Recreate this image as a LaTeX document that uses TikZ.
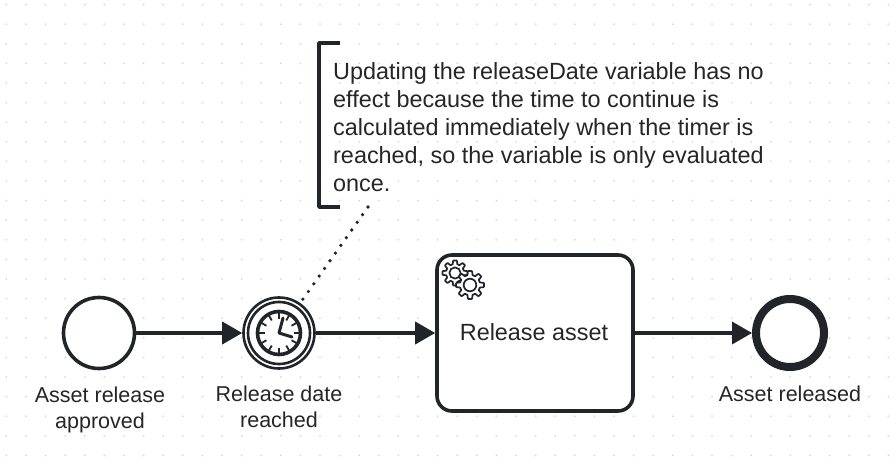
\documentclass[tikz,border=0pt]{standalone}
\usepackage{fontspec}
\setmainfont{Liberation Sans}
\usetikzlibrary{arrows.meta}
\usetikzlibrary{calc}
\usetikzlibrary{positioning}
\definecolor{inkdark}{rgb}{0.13,0.14,0.16}
\definecolor{griddot}{rgb}{0.84,0.85,0.86}
\tikzset{
    event/.style={circle, draw=inkdark, fill=white, line width=3.6pt, minimum size=71pt, inner sep=0pt},
    timerevent/.style={circle, draw=inkdark, fill=white, line width=2.6pt, minimum size=71pt, inner sep=0pt},
    endevent/.style={circle, draw=inkdark, fill=white, line width=8pt, minimum size=68pt, inner sep=0pt},
    task/.style={rectangle, draw=inkdark, fill=white, line width=3.6pt, rounded corners=15pt, minimum width=196pt, minimum height=156pt, inner sep=0pt},
    flow/.style={draw=inkdark, line width=3.6pt, -{Triangle[length=20pt,width=22pt]}},
    label/.style={align=center, text=black!85, font=\fontsize{21.5}{26}\selectfont, inner sep=0pt},
    bigtext/.style={text=black!85, font=\fontsize{23.4}{28}\selectfont, inner sep=0pt},
    gear/.style={draw=inkdark, fill=white, line width=1.7pt, line join=round}
}
% one gear with eight teeth
\newcommand{\gearshape}[3]{
    \draw[gear] plot[samples=193, domain=0:360] ({#1+#3*(0.86+0.14*max(-1,min(1,2.5*cos(8*\x))))*cos(\x)},{#2+#3*(0.86+0.14*max(-1,min(1,2.5*cos(8*\x))))*sin(\x)}) -- cycle;
    \draw[gear] (#1,#2) circle ({#3*0.45});
}
\begin{document}
\begin{tikzpicture}[x=1pt, y=-1pt]
    \useasboundingbox (0,0) rectangle (896,462);
    \fill[white] (0,0) rectangle (896,462);

    % Punktraster
    \foreach \i in {0,...,45} {
        \foreach \j in {0,...,23} {
            \fill[griddot] (6.4+19.6*\i,4.6+19.6*\j) circle (1pt);
        }
    }

    % Elemente
    \node[event] (approved) at (99,333) {};
    \node[timerevent] (reached) at (279,333) {};
    \node[circle, draw=inkdark, line width=2.6pt, minimum size=62pt, inner sep=0pt] (reachedinner) at (279,333) {};
    \node[circle, draw=inkdark, line width=3.6pt, minimum size=43pt, inner sep=0pt] (clock) at (279,333) {};
    \node[task] (release) at (535,333) {};
    \node[bigtext] (releasetext) at (534,332) {Release asset};
    \node[endevent] (released) at (790,333) {};

    % Beschriftungen
    \node[label, below=16pt of approved, xshift=1pt] (approvedtext) {Asset release\\approved};
    \node[label, below=16pt of reached] (reachedtext) {Release date\\reached};
    \node[label, below=15pt of released] (releasedtext) {Asset released};

    % Uhr
    \foreach \a in {0,30,...,330} {
        \draw[inkdark, line width=1.8pt] ($(279,333)+(\a:14.5)$) -- ($(279,333)+(\a:20)$);
    }
    \draw[inkdark, line width=3pt, line cap=round, line join=round] (283,318) -- (279,333) -- (292,337);

    % Zahnraeder
    \gearshape{455}{273}{12.5}
    \gearshape{470}{285}{14}

    % Flussrichtung
    \draw[flow] (approved) -- (reached);
    \draw[flow] (reached) -- (release);
    \draw[flow] (release) -- (released);

    % Anmerkung
    \node[bigtext, anchor=north west, align=left] (note) at (333,62) {Updating the releaseDate variable has no\\effect because the time to continue is\\calculated immediately when the timer is\\reached, so the variable is only evaluated\\once.};
    \coordinate (notetop) at (340,43);
    \coordinate (notebot) at (340,207);
    \coordinate (noteleft) at (319,43);
    \coordinate (noteleftbot) at (319,207);
    \coordinate (noteanchor) at (368,207);
    \draw[inkdark, line width=3.6pt, line join=round] (notetop) -- (noteleft) -- (noteleftbot) -- (notebot);
    \draw[inkdark, line width=3.6pt, line cap=round, dash pattern=on 0pt off 9.4pt] (noteanchor) -- (reached);
\end{tikzpicture}
\end{document}
